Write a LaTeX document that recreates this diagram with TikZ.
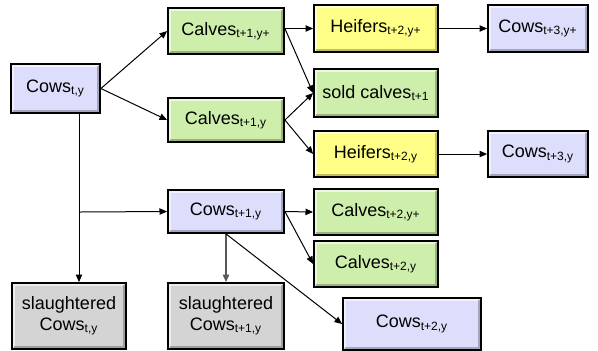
\documentclass[tikz,border=0pt]{standalone}
\usepackage{fontspec}
\setmainfont{Liberation Sans}
\usetikzlibrary{positioning}
\usetikzlibrary{arrows.meta}

\definecolor{cowFill}{RGB}{221,221,252}
\definecolor{calfFill}{RGB}{206,238,172}
\definecolor{heiferFill}{RGB}{255,255,136}
\definecolor{slaughterFill}{RGB}{212,212,212}

\begin{document}
\begin{tikzpicture}[
    x=0.5pt, y=-0.5pt, % one unit is one pixel of the sketch
    ->, % makes edges directed
    >={Triangle[length=3.8pt,width=3.2pt]}, % arrow head style
    line width=0.5pt,
    % Styling for the boxes
    stockBox/.style={
        rectangle,
        draw=black,
        line width=0.9pt,
        inner sep=0pt,
        align=center,
        font=\fontsize{9}{10.5}\selectfont,
        path picture={
            \draw[-, white, opacity=0.6, line width=1pt]
                ([shift={(0.8pt,0.8pt)}]path picture bounding box.south west)
                |- ([shift={(-0.8pt,-0.8pt)}]path picture bounding box.north east);
            \draw[-, black, opacity=0.25, line width=1pt]
                ([shift={(0.8pt,0.8pt)}]path picture bounding box.south west)
                -| ([shift={(-0.8pt,-0.8pt)}]path picture bounding box.north east);
        }
    },
    cowBox/.style={stockBox, fill=cowFill},
    calfBox/.style={stockBox, fill=calfFill},
    heiferBox/.style={stockBox, fill=heiferFill},
    slaughterBox/.style={stockBox, fill=slaughterFill}
]
    \useasboundingbox (0,0) rectangle (598,350);

    % Define Nodes
    \node[cowBox, minimum width=44.5pt, minimum height=24.5pt] (cowsTY) at (55.5,88.5) {Cows\textsubscript{t,y}};
    \node[calfBox, minimum width=58pt, minimum height=23pt] (calvesYp) at (226,31) {Calves\textsubscript{t+1,y+}};
    \node[calfBox, minimum width=58pt, minimum height=22pt] (calvesY) at (226,120) {Calves\textsubscript{t+1,y}};
    \node[heiferBox, minimum width=62pt, minimum height=23.5pt] (heifersYp) at (376,28.5) {Heifers\textsubscript{t+2,y+}};
    \node[calfBox, minimum width=62pt, minimum height=24pt] (sold) at (376,93) {sold calves\textsubscript{t+1}};
    \node[heiferBox, minimum width=62pt, minimum height=23pt] (heifersY) at (376,154) {Heifers\textsubscript{t+2,y}};
    \node[cowBox, minimum width=50pt, minimum height=23.5pt] (cowsT3Yp) at (538,28.5) {Cows\textsubscript{t+3,y+}};
    \node[cowBox, minimum width=50pt, minimum height=23pt] (cowsT3Y) at (538,154) {Cows\textsubscript{t+3,y}};
    \node[cowBox, minimum width=58pt, minimum height=21.5pt] (cowsT1Y) at (226,211.5) {Cows\textsubscript{t+1,y}};
    \node[calfBox, minimum width=62pt, minimum height=23pt] (calvesT2Yp) at (376,212) {Calves\textsubscript{t+2,y+}};
    \node[calfBox, minimum width=62pt, minimum height=23pt] (calvesT2Y) at (376,264) {Calves\textsubscript{t+2,y}};
    \node[cowBox, minimum width=69pt, minimum height=26pt] (cowsT2Y) at (412,324) {Cows\textsubscript{t+2,y}};
    \node[slaughterBox, minimum width=57pt, minimum height=33pt] (slaughterTY) at (69,316) {slaughtered\\Cows\textsubscript{t,y}};
    \node[slaughterBox, minimum width=58pt, minimum height=33pt] (slaughterT1Y) at (226,316) {slaughtered\\Cows\textsubscript{t+1,y}};
    \coordinate (split) at (79,212);

    % Draw Edges
    \draw (cowsTY.east) -- (calvesYp.west);
    \draw (cowsTY.east) -- (calvesY.west);
    \draw (heifersYp.west -| calvesYp.east) -- (heifersYp.west);
    \draw (heifersYp.west -| calvesYp.east) -- (sold.west);
    \draw (calvesY.east) -- (sold.west);
    \draw (calvesY.east) -- (heifersY.west);
    \draw (heifersYp) -- (cowsT3Yp);
    \draw (heifersY) -- (cowsT3Y);
    \draw[-] (cowsTY.south -| split) -- (split);
    \draw (split) -- (slaughterTY.north -| split);
    \draw (split) -- (cowsT1Y.west);
    \draw (cowsT1Y.east) -- (calvesT2Yp.west);
    \draw (cowsT1Y.east) -- (calvesT2Y.west);
    \draw[gray!70!black, line width=0.8pt] (cowsT1Y) -- (slaughterT1Y);
    \draw (cowsT1Y.south) -- (cowsT2Y.west);

\end{tikzpicture}
\end{document}
